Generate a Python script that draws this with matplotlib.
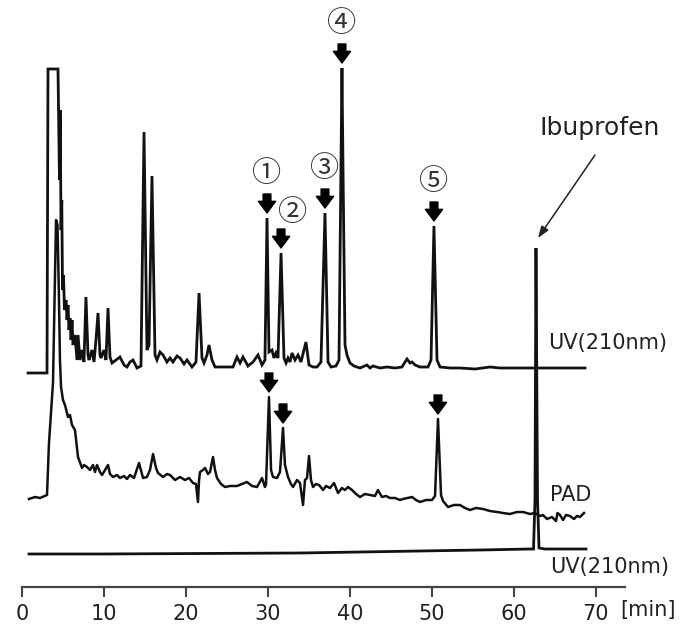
import numpy as np
import matplotlib
matplotlib.use("Agg")
import matplotlib.pyplot as plt

# chromatogram traces (time in min, signal in arbitrary units)
uv_top_t = [0.73, 3.05, 3.17, 4.39, 4.57, 4.66, 4.76, 4.85, 4.94, 5.06, 5.18, 5.37, 5.49, 5.61,
            5.73, 5.85, 5.98, 6.10, 6.22, 6.46, 6.71, 6.83, 7.07, 7.32, 7.56, 7.80, 8.05, 8.17,
            8.54, 8.78, 9.02, 9.27, 9.51, 9.63, 10.00, 10.24, 10.49, 10.73, 10.98, 11.46, 11.95,
            12.44, 12.80, 13.17, 13.54, 14.02, 14.51, 14.88, 15.24, 15.49, 15.85, 16.22, 16.46,
            16.83, 17.20, 17.68, 18.05, 18.41, 18.90, 19.27, 19.76, 20.12, 20.73, 21.22, 21.59,
            21.95, 22.20, 22.56, 22.80, 23.17, 23.54, 24.15, 25.73, 26.22, 26.59, 26.95, 27.56,
            28.17, 28.78, 29.27, 29.63, 29.88, 30.12, 30.49, 30.73, 30.98, 31.22, 31.59, 31.95,
            32.20, 32.44, 32.68, 32.93, 33.29, 33.66, 34.02, 34.63, 35.00, 35.49, 35.98, 36.46,
            36.95, 37.32, 37.68, 38.29, 38.66, 39.02, 39.15, 39.39, 39.63, 40.00, 40.49, 41.22,
            42.07, 42.44, 42.80, 43.66, 44.51, 45.49, 46.34, 46.71, 46.95, 47.32, 47.56, 47.93,
            48.54, 49.51, 49.88, 50.24, 50.61, 50.98, 52.20, 53.41, 55.24, 57.07, 58.29, 60.12,
            61.95, 63.78, 65.61, 67.44, 68.66]
uv_top_h = [-3, -3, 301, 301, 190, 260, 140, 170, 80, 95, 60, 70, 50, 65,
            40, 52, 30, 50, 25, 35, 10, 35, 10, 20, 8, 73, 15, 10,
            20, 8, 30, 57, 15, 12, 20, 10, 62, 13, 7, 10, 13,
            5, 3, 8, 10, 2, 4, 238, 20, 25, 194, 15, 10,
            18, 15, 8, 12, 8, 14, 12, 6, 10, 3, 8, 77,
            12, 7, 15, 25, 10, 3, 3, 3, 13, 7, 13, 4,
            8, 15, 5, 10, 152, 18, 20, 12, 17, 12, 117, 12,
            7, 12, 8, 17, 10, 15, 8, 28, 5, 3, 3, 8,
            157, 8, 3, 4, 10, 302, 200, 25, 15, 7, 4, 2,
            5, 2, 4, 2, 3, 2, 3, 8, 11, 7, 8, 5,
            3, 3, 10, 144, 10, 3, 2, 2, 1, 3, 2, 2,
            2, 2, 2, 2, 2]

pad_t = [0.85, 1.59, 2.20, 3.05, 3.29, 3.78, 4.15, 4.33, 4.51, 4.63, 4.76, 5.00, 5.24, 5.61,
         5.85, 6.10, 6.46, 6.83, 7.32, 7.56, 7.93, 8.29, 8.66, 8.90, 9.15, 9.51, 9.76, 10.12,
         10.49, 10.73, 11.10, 11.59, 11.95, 12.44, 12.80, 13.17, 13.66, 14.27, 14.76, 15.24,
         15.61, 15.98, 16.34, 16.59, 17.20, 17.68, 18.05, 18.66, 19.27, 19.88, 20.37, 20.85,
         21.22, 21.46, 21.59, 21.71, 22.07, 22.32, 22.68, 22.93, 23.29, 23.54, 23.78, 24.27,
         24.76, 25.37, 26.22, 26.83, 27.44, 28.05, 28.66, 29.27, 29.63, 29.76, 30.12, 30.37,
         30.61, 31.10, 31.46, 31.83, 32.07, 32.44, 32.80, 33.05, 33.54, 33.90, 34.27, 34.51,
         34.76, 35.00, 35.24, 35.49, 35.85, 36.22, 36.71, 37.07, 37.56, 38.05, 38.54, 39.02,
         39.39, 39.76, 40.24, 40.73, 41.22, 41.83, 42.44, 43.05, 43.41, 43.90, 44.39, 44.88,
         45.49, 46.10, 46.46, 47.56, 48.05, 48.54, 49.27, 50.00, 50.37, 50.73, 51.10, 51.34,
         51.95, 52.68, 53.41, 54.02, 54.63, 55.37, 56.22, 57.07, 57.93, 58.66, 59.51, 60.37,
         61.10, 61.95, 62.56, 63.17, 63.54, 64.02, 64.63, 65.12, 65.30, 65.61, 65.98, 66.34,
         66.83, 67.32, 67.68, 68.05, 68.54]
pad_h = [-2, 0, -1, 2, 54, 114, 277, 272, 197, 137, 110, 97, 92, 80,
         82, 72, 67, 40, 29, 32, 30, 27, 32, 25, 32, 25, 22, 27,
         32, 23, 20, 22, 19, 21, 18, 22, 19, 34, 19, 20,
         27, 43, 29, 24, 20, 23, 22, 17, 20, 17, 19, 14,
         13, -5, 17, 25, 27, 29, 23, 25, 40, 27, 19, 13,
         10, 11, 11, 13, 15, 11, 10, 19, 10, 13, 100, 27,
         20, 19, 25, 69, 32, 20, 13, 10, 17, 14, -8, 17,
         19, 41, 17, 10, 13, 12, 7, 11, 9, 14, 4, 9,
         7, 10, 7, 3, 0, 3, 2, 1, 7, 0, 1, -1,
         -1, -3, -2, 0, -3, -5, -3, -3, 1, 78, 2, -4,
         -10, -8, -8, -11, -13, -11, -12, -14, -15, -16, -17, -15,
         -15, -17, -16, -19, -18, -22, -20, -24, -16, -18, -23, -18,
         -19, -22, -19, -20, -16]

uv_bot_t = [0.85, 9.51, 33.90, 41.22, 48.54, 55.85, 61.95, 62.38, 62.56, 62.68, 62.87, 63.05,
            63.78, 68.78]
uv_bot_h = [0, 0, 1, 2, 3, 4, 5, 5, 54, 306, 54, 6, 5, 5]

# vertical offsets of the three stacked traces
offsets = {"uv_top": 217, "pad": 90, "uv_bot": 33}

# marked peaks
top_marks = [29.88, 31.59, 36.95, 39.02, 50.24]
top_labels = ["①", "②", "③", "④", "⑤"]
pad_marks = [30.12, 31.83, 50.73]
ibuprofen_t = 62.68

ticks = [0, 10, 20, 30, 40, 50, 60, 70]

fig = plt.figure(figsize=(6.88, 6.32), dpi=100)
ax = fig.add_axes([22 / 688, 45 / 632, 603 / 688, 587 / 632])
ax.set_xlim(0, 603 / 8.2)
ax.set_ylim(0, 587)

lw = 2.0
col = "#111111"
top_y = np.array(uv_top_h) + offsets["uv_top"]
pad_y = np.array(pad_h) + offsets["pad"]
bot_y = np.array(uv_bot_h) + offsets["uv_bot"]
ax.plot(uv_top_t, top_y, color=col, lw=lw, solid_joinstyle="miter")
ax.plot(pad_t, pad_y, color=col, lw=lw * 0.9, solid_joinstyle="round")
ax.plot(uv_bot_t, bot_y, color=col, lw=lw, solid_joinstyle="miter")


def peak_top(t, y, tp):
    t = np.asarray(t)
    return y[np.abs(t - tp) < 0.3].max()


arrow_style = dict(arrowstyle="simple,head_width=0.62,head_length=0.42,tail_width=0.28",
                   fc="black", ec="black", shrinkA=0, shrinkB=0, mutation_scale=20)
circ_font = ["Noto Sans CJK JP", "DejaVu Sans"]
lab_dx = [0, 1.35, 0, 0, 0]
lab_dy = [0, -4, 0, 0, 0]

for tp, lab, dx, dy in zip(top_marks, top_labels, lab_dx, lab_dy):
    top = peak_top(uv_top_t, top_y, tp)
    ax.annotate("", xy=(tp, top + 5), xytext=(tp, top + 24), arrowprops=arrow_style)
    ax.text(tp + dx, top + 44 + dy, lab, ha="center", va="center", fontsize=21,
            family=circ_font, color="#333333")

for tp in pad_marks:
    top = peak_top(pad_t, pad_y, tp)
    ax.annotate("", xy=(tp, top + 5), xytext=(tp, top + 24), arrowprops=arrow_style)

# ibuprofen label
ib_top = peak_top(uv_bot_t, bot_y, ibuprofen_t)
ax.annotate("", xy=(ibuprofen_t + 0.25, ib_top + 10), xytext=(ibuprofen_t + 7.2, ib_top + 93),
            arrowprops=dict(arrowstyle="-|>,head_width=0.25,head_length=0.7", lw=1.1,
                            color="#222222", shrinkA=0, shrinkB=0))
ax.text(ibuprofen_t + 7.8, ib_top + 120, "Ibuprofen", ha="center", va="center",
        fontsize=18, color="#222222", clip_on=False)

ax.text(64.15, 244, "UV(210nm)", ha="left", va="center", fontsize=15, color="#222222")
ax.text(64.4, 92, "PAD", ha="left", va="center", fontsize=15, color="#222222")
ax.text(64.4, 20, "UV(210nm)", ha="left", va="center", fontsize=15, color="#222222")

# time axis
for s in ["left", "right", "top"]:
    ax.spines[s].set_visible(False)
ax.spines["bottom"].set_linewidth(1.6)
ax.spines["bottom"].set_color("#444444")
ax.set_yticks([])
ax.set_xticks(ticks)
ax.set_xticklabels([str(v) for v in ticks])
ax.tick_params(axis="x", direction="out", length=7, width=1.5, color="#444444",
               labelsize=15, pad=5, labelcolor="#222222")
ax.text(72.9, -23, "[min]", ha="left", va="center", fontsize=15, color="#222222", clip_on=False)

fig.savefig("out.png", dpi=100)
